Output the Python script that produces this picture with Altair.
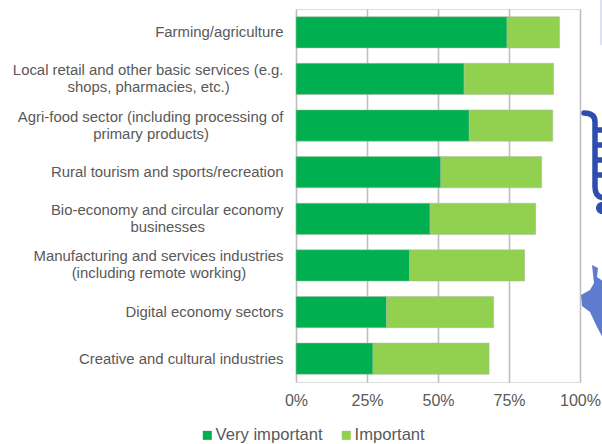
import altair as alt
import pandas as pd

FONT = "Liberation Sans"

# Right-hand padding (in spaces) that centres a second label line under the first.
label_lines = [
    ("Farming/agriculture", None, 0),
    ("Local retail and other basic services (e.g.", "shops, pharmacies, etc.)", 13),
    ("Agri-food sector (including processing of", "primary products)", 18),
    ("Rural tourism and sports/recreation", None, 0),
    ("Bio-economy and circular economy", "businesses", 19),
    ("Manufacturing and services industries", "(including remote working)", 9),
    ("Digital economy sectors", None, 0),
    ("Creative and cultural industries", None, 0),
]
very_important = [74.3, 59.2, 61.0, 51.0, 47.2, 40.0, 31.9, 27.1]
total_share = [92.8, 90.7, 90.4, 86.5, 84.4, 80.5, 69.6, 68.0]
important = [round(t - v, 1) for t, v in zip(total_share, very_important)]
series_names = ["Very important", "Important"]
series_colors = ["#00B050", "#92D050"]


def axis_label(first, second, pad):
    if second is None:
        return first
    # Vega trims plain whitespace, so the padding is closed with a zero-width space.
    return first + "|" + second + "\u00a0" * pad + "\u200b"


categories = [axis_label(*parts) for parts in label_lines]

rows = []
for cat, v, i in zip(categories, very_important, important):
    rows.append({"category": cat, "series": series_names[0], "start": 0, "end": v})
    rows.append({"category": cat, "series": series_names[1], "start": v, "end": v + i})
data = pd.DataFrame(rows)

bars = alt.Chart(data).mark_bar(stroke="#A9B8A0", strokeWidth=0.5).encode(
    y=alt.Y(
        "category:N",
        sort=categories,
        title=None,
        scale=alt.Scale(paddingInner=0.33, paddingOuter=0.165),
        axis=alt.Axis(
            labelExpr="split(datum.label, '|')",
            labelFont=FONT,
            labelFontSize=14.9,
            labelColor="#595959",
            labelLimit=300,
            labelLineHeight=17,
            labelBaseline="middle",
            labelOffset={
                "condition": {"test": "indexof(datum.value, '|') >= 0", "value": -8},
                "value": 1,
            },
            labelPadding=13,
            ticks=False,
            domain=False,
        ),
    ),
    x=alt.X(
        "start:Q",
        title=None,
        scale=alt.Scale(domain=[0, 100]),
        axis=alt.Axis(
            values=[0, 25, 50, 75, 100],
            labelExpr="datum.value + '%'",
            labelFont=FONT,
            labelFontSize=16,
            labelColor="#595959",
            labelPadding=10,
            labelFlush=False,
            labelOverlap=False,
            ticks=False,
            domain=False,
            grid=True,
            gridColor="#BFBFBF",
            gridWidth=1.6,
        ),
    ),
    x2="end:Q",
    color=alt.Color(
        "series:N",
        sort=series_names,
        scale=alt.Scale(domain=series_names, range=series_colors),
        legend=alt.Legend(
            title=None,
            orient="none",
            direction="horizontal",
            legendX=-97,
            legendY=418,
            symbolType="square",
            symbolSize=81,
            symbolStrokeWidth=0,
            labelFont=FONT,
            labelFontSize=16.6,
            labelColor="#595959",
            labelOffset=0,
            columnPadding=15,
        ),
    ),
)

# Page artwork partly hidden at the right edge: a cart, a region outline and a frame line.
CART = (
    "M584 113 C591 113 595 116 595 122 L595 187 C595 194 598 198 605 198 "
    "M595 130 L605 130 M595 145 L605 145 M595 160 L605 160 M595 175 L605 175"
)
REGION = (
    "M592 265 L598 268 L597 277 L604 282 L604 340 L597 327 L590 312 "
    "L582 306 L581 295 L590 290 L594 283 Z"
)
WHEEL = "M608 208 A6 6 0 1 0 596 208 A6 6 0 1 0 608 208 Z"
FRAME = "M601 0 L601 45"


def artwork(path, **style):
    return alt.Chart(pd.DataFrame({"part": [0]})).mark_point(
        shape=path, size=4, opacity=1, **style
    ).encode(x=alt.value(-296), y=alt.value(-9))


cart = artwork(CART, filled=False, stroke="#2F4DAF", strokeWidth=5.5, strokeCap="round")
wheel = artwork(WHEEL, filled=True, fill="#2F4DAF", strokeWidth=0)
region = artwork(REGION, filled=True, fill="#5F7BD0", strokeWidth=0)
frame = artwork(FRAME, filled=False, stroke="#B9C3E8", strokeWidth=1)

chart = alt.layer(bars, cart, wheel, region, frame).properties(
    width=284, height=373, padding={"left": 296, "top": 9, "right": 22, "bottom": 62}
).configure_view(stroke=None).configure(autosize=alt.AutoSizeParams(type="none"))

chart.save("out.html", embed_options={"renderer": "svg", "actions": False})
